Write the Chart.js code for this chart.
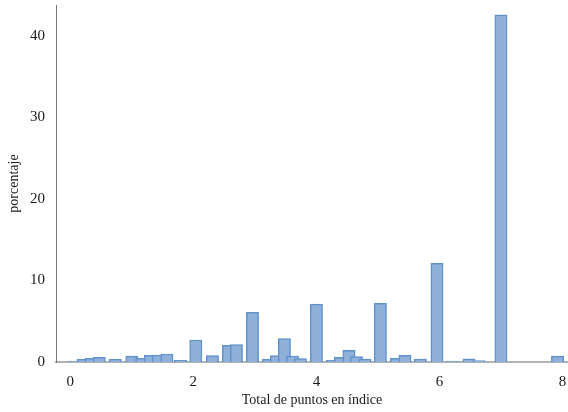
<!DOCTYPE html>
<html lang="es">
<head>
<meta charset="utf-8">
<title>Total de puntos en índice</title>
<script src="https://cdn.jsdelivr.net/npm/chart.js@4.4.1/dist/chart.umd.min.js"></script>
<style>
  html, body { margin: 0; padding: 0; background: #ffffff; }
  #wrap { width: 568px; height: 412px; }
</style>
</head>
<body>
<div id="wrap"><canvas id="hist" width="568" height="412"></canvas></div>
<script>
// Puntos del índice (centro de cada barra) y porcentaje de casos
const puntos = [
  0.08, 0.21, 0.34, 0.47, 0.73, 1.0, 1.16, 1.30, 1.43, 1.57, 1.79,
  2.04, 2.31, 2.57, 2.70, 2.96,
  3.22, 3.35, 3.48, 3.61, 3.74, 4.0,
  4.26, 4.39, 4.53, 4.65, 4.79, 5.04,
  5.30, 5.44, 5.69, 5.96,
  6.22, 6.48, 6.64, 7.0, 7.92
];
const porcentaje = [
  0.1, 0.33, 0.45, 0.57, 0.33, 0.73, 0.45, 0.82, 0.86, 0.98, 0.2,
  2.7, 0.8, 2.05, 2.15, 6.1,
  0.33, 0.8, 2.88, 0.74, 0.42, 7.1,
  0.2, 0.57, 1.43, 0.65, 0.37, 7.2,
  0.45, 0.82, 0.37, 12.1,
  0.1, 0.4, 0.17, 42.6, 0.73
];
const ticksX = [0, 2, 4, 6, 8];
const ticksY = [0, 10, 20, 30, 40];

const serif = "'Liberation Serif', 'DejaVu Serif', serif";
const ink = '#1a1a1a';

const setTicks = values => scale => {
  scale.ticks = values.map(v => ({ value: v }));
};

new Chart(document.getElementById('hist'), {
  type: 'bar',
  data: {
    datasets: [{
      data: puntos.map((x, i) => ({ x: x, y: porcentaje[i] })),
      backgroundColor: '#8fb1d9',
      borderColor: '#6092cc',
      borderWidth: 1.5,
      barThickness: 12.3
    }]
  },
  options: {
    responsive: false,
    animation: false,
    layout: { padding: { top: 5, right: 0, bottom: 0, left: 0 } },
    plugins: { legend: { display: false }, tooltip: { enabled: false } },
    scales: {
      x: {
        type: 'linear',
        offset: false,
        min: -0.233,
        max: 8.09,
        afterBuildTicks: setTicks(ticksX),
        afterFit: s => { s.height = 50; s.paddingLeft = 0; s.paddingRight = 0; },
        grid: { display: false, drawTicks: false, offset: false },
        border: { display: true, color: '#b3b3b3', width: 2 },
        ticks: { padding: 11, color: ink, font: { family: serif, size: 15 } },
        title: {
          display: true,
          text: 'Total de puntos en índice',
          color: ink,
          font: { family: serif, size: 14 },
          padding: { top: 0, bottom: 3 }
        }
      },
      y: {
        type: 'linear',
        min: 0,
        max: 43.8,
        afterBuildTicks: setTicks(ticksY),
        afterFit: s => { s.width = 56; s.paddingTop = 0; s.paddingBottom = 0; },
        grid: { display: false, drawTicks: false },
        border: { display: true, color: '#777777', width: 1 },
        ticks: { padding: 11, color: ink, font: { family: serif, size: 15 } },
        title: {
          display: true,
          text: 'porcentaje',
          color: ink,
          font: { family: serif, size: 14 },
          padding: { top: 6, bottom: 0 }
        }
      }
    }
  }
});
</script>
</body>
</html>
